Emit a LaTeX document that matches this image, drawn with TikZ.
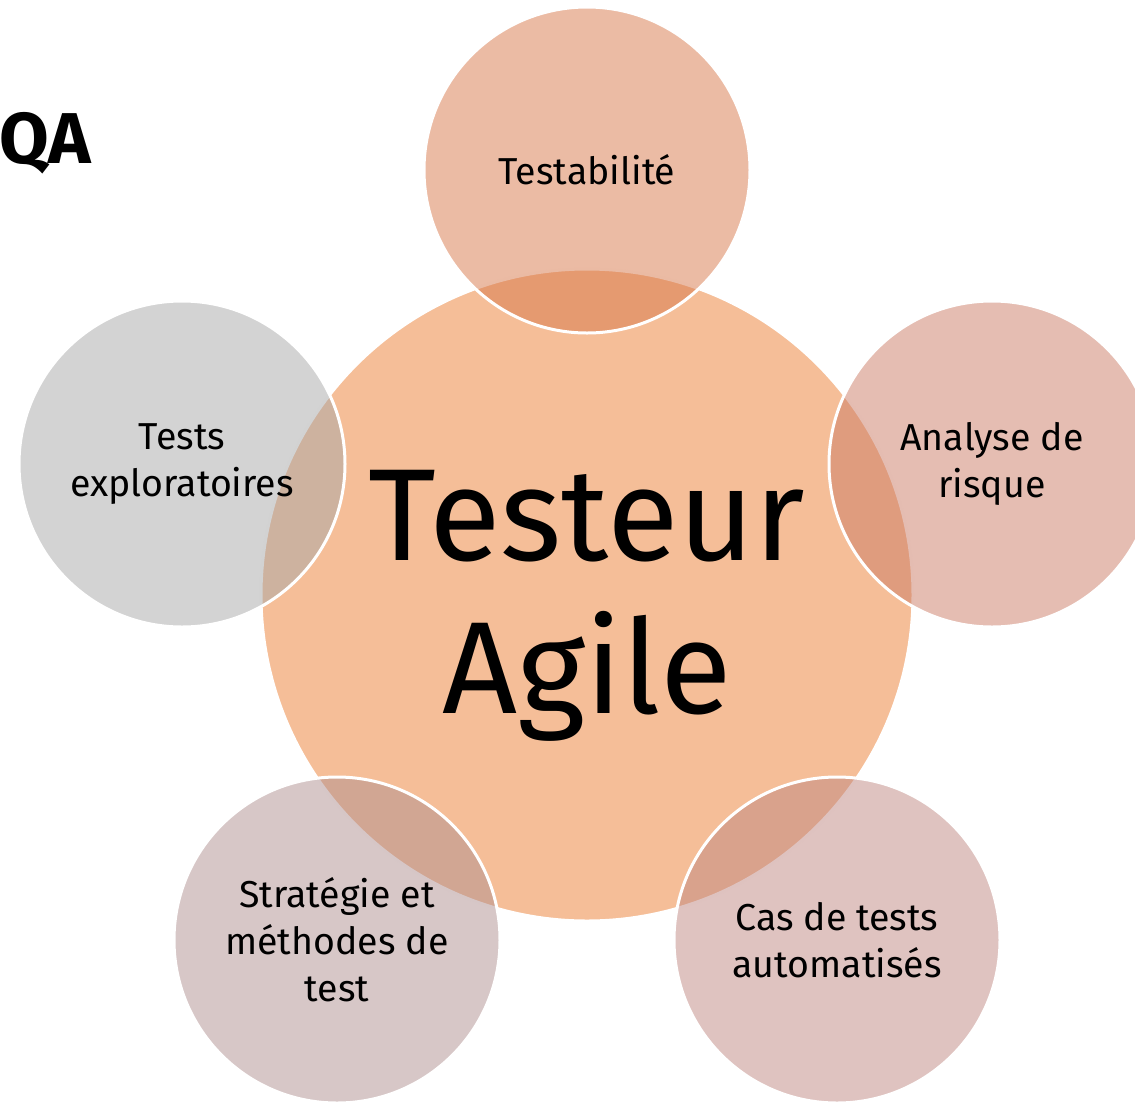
\documentclass[tikz,border=0pt]{standalone}
\usepackage{fontspec}
\setmainfont{Fira Sans}
\usepackage{tikz}
\usetikzlibrary{positioning}
\definecolor{coreColor}{RGB}{245,190,152}
\definecolor{testabColor}{RGB}{215,119,73}
\definecolor{risqueColor}{RGB}{203,123,101}
\definecolor{exploColor}{RGB}{167,167,167}
\definecolor{strategieColor}{RGB}{175,143,143}
\definecolor{autoColor}{RGB}{191,135,129}

\begin{document}
\begin{tikzpicture}[
    x=1pt, y=-1pt,
    bubble/.style={circle, draw=white, line width=3pt, minimum size=326pt, inner sep=0pt, align=center, font=\fontsize{37.5}{47}\selectfont, fill opacity=0.5, text opacity=1},
    core/.style={circle, draw=white, line width=3pt, fill=coreColor, minimum size=652pt, inner sep=0pt},
    coretext/.style={align=center, inner sep=0pt, font=\fontsize{131}{153}\selectfont}
]
    \useasboundingbox (0,0) rectangle (1135,1101);

    % Title
    \node[anchor=west, inner sep=0pt, font=\fontsize{72}{80}\selectfont\bfseries] (qa) at (-1,143) {QA};

    % Central circle
    \node[core] (testeur) at (587,595) {};
    \node[coretext] (testeurtext) at ([yshift=-11pt]testeur.center) {Testeur\\Agile};

    % Surrounding circles
    \node[bubble, fill=testabColor] (testab) at (587,170) {Testabilité};
    \node[bubble, fill=risqueColor] (risque) at (992,464) {Analyse de\\risque};
    \node[bubble, fill=exploColor] (explo) at (182,464) {Tests\\exploratoires};
    \node[bubble, fill=strategieColor] (strategie) at (337,940) {Stratégie et\\méthodes de\\test};
    \node[bubble, fill=autoColor] (auto) at (837,940) {Cas de tests\\automatisés};
\end{tikzpicture}
\end{document}
